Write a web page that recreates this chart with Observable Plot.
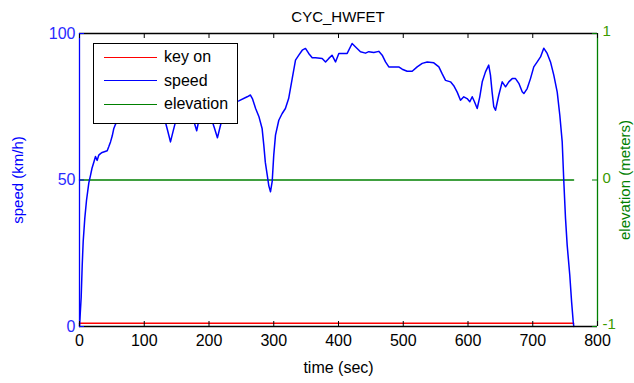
<!DOCTYPE html>
<html>
<head>
<meta charset="utf-8">
<script src="https://cdn.jsdelivr.net/npm/d3@7"></script>
<script src="https://cdn.jsdelivr.net/npm/@observablehq/plot@0.6"></script>
<style>
  html, body { margin: 0; padding: 0; background: #fff; }
  #wrap { position: relative; width: 634px; height: 383px; font-family: "Liberation Sans", Arial, sans-serif; }
  #title { position: absolute; left: 79px; width: 518px; top: 8px; text-align: center; font-size: 15px; color: #000; }
  #legend { position: absolute; left: 93px; top: 43px; width: 143px; height: 79px; border: 1px solid #000; background: #fff; }
  .row { position: absolute; left: 10px; height: 20px; display: flex; align-items: center; font-size: 16px; color: #000; }
  .sw { width: 53px; height: 0; border-top: 1.5px solid; margin-right: 7px; }
</style>
</head>
<body>
<div id="wrap"></div>
<script>
// ---- data ----
const speedTime = [0, 2.6, 4.2, 5.7, 8.2, 10.8, 14.4, 17, 19.3, 22, 24.7, 27.3, 29.8, 32.4, 35, 42.8, 45.3, 47.9, 50.5, 53, 55.6,
  60, 70, 80, 90, 100, 110, 120, 130, 136, 140.5, 145, 152, 162, 172, 178, 181, 184, 192, 202, 208, 213, 217, 224, 234, 246,
  259, 264, 267, 272, 277, 282, 284.6, 287, 290, 292.4, 295, 297.6, 300, 302.7, 307.8, 313, 318, 323, 328.5, 333.6, 338.7, 344, 349,
  354, 359.4, 364.5, 374.8, 380, 385, 390, 395.4, 400.5, 413.4, 421, 426, 433.9, 441.7, 446.8, 454.5, 462.2, 467.5, 472.6, 477.7,
  493, 498.4, 506, 513.8, 521.5, 529.3, 537, 547.2, 555, 560, 565.3, 573, 578, 583.3, 588.4, 593.5, 598.6, 602.8, 606.5, 610,
  614.2, 618.2, 622, 627, 632, 634.7, 637.2, 639.8, 642.5, 647.6, 652.8, 658, 663, 668.3, 673.4, 678.5, 683.7, 686.3, 691.4,
  696.5, 701.6, 706.9, 712, 717, 722.3, 727.4, 732.5, 737.8, 741.8, 745.5, 748, 750.6, 753.2, 757.2, 760, 762.5, 763.4];
const speedValue = [0, 10, 21, 29, 37, 43, 49, 51.6, 54, 56, 58, 56.7, 58.5, 59, 59.4, 60, 61.4, 63, 65, 67.6, 69,
  71, 73, 74, 75, 76, 75, 74, 72, 67, 63, 67, 73, 75, 73, 69, 66.8, 70, 74, 72, 68, 64.4, 68, 74, 76, 77,
  78.4, 79, 77.8, 74.4, 71.7, 67.6, 62, 56, 51.6, 48, 46, 49.5, 58.5, 65.3, 70.4, 72.7, 74.4, 77.8, 84.6, 90.9, 92.6, 94.3, 94.9,
  93.2, 91.7, 91.7, 91.5, 90.3, 91.5, 92.6, 90.3, 93.2, 93.2, 96.6, 95.5, 93.8, 93.3, 93.8, 93.5, 93.9, 92.6, 90.3, 88.6,
  88.6, 87.8, 87.1, 87.1, 88.6, 89.8, 90.3, 90, 88.6, 86.3, 84, 83.5, 82.2, 80, 77.2, 78.4, 77.8, 76.7, 78.4, 76.7,
  74.4, 78.4, 83.5, 86.9, 89.2, 85.8, 80.1, 75, 73.8, 79, 83.5, 81.8, 83.5, 84.6, 84.6, 83, 80.1, 79.5, 81.2,
  84.6, 88.6, 90.3, 92, 95, 93.2, 90.3, 85.8, 80, 72.1, 63, 49.4, 36.9, 27.7, 17.5, 8.4, 1.6, 0];
const keyOnTime = [0, 763];
const keyOnValue = [1.1, 1.1];
const elevationTime = [0, 763];
const elevationValue = [0, 0];
const xTicks = [0, 100, 200, 300, 400, 500, 600, 700, 800];
const speedTicks = [0, 50, 100];
const elevationTicks = [-1, 0, 1];
const seriesNames = ["key on", "speed", "elevation"];
const seriesColors = ["#ff0000", "#0000ff", "#008000"];

// elevation (right axis) mapped onto the speed scale
const elevToSpeed = d3.scaleLinear([-1, 1], [0, 100]);
const speedToElev = elevToSpeed.invert;

const speedData = speedTime.map((t, i) => ({t, v: speedValue[i]}));
const keyData = keyOnTime.map((t, i) => ({t, v: keyOnValue[i]}));
const elevData = elevationTime.map((t, i) => ({t, v: elevToSpeed(elevationValue[i])}));

const chart = Plot.plot({
  width: 634, height: 383,
  marginLeft: 79, marginRight: 37, marginTop: 33, marginBottom: 57,
  x: {domain: [0, 800]},
  y: {domain: [0, 100]},
  style: {fontFamily: "'Liberation Sans', Arial, sans-serif", fontSize: "16px", background: "white", overflow: "visible"},
  marks: [
    Plot.line(keyData, {x: "t", y: "v", stroke: seriesColors[0], strokeWidth: 1.6}),
    Plot.line(elevData, {x: "t", y: "v", stroke: seriesColors[2], strokeWidth: 1.5}),
    Plot.line(speedData, {x: "t", y: "v", stroke: seriesColors[1], strokeWidth: 1.5}),
    // frame
    Plot.ruleY([0, 100], {stroke: "#000", strokeWidth: 1.3}),
    Plot.ruleX([0], {stroke: "#0000ff", strokeWidth: 1.3}),
    Plot.ruleX([800], {stroke: "#008000", strokeWidth: 1.3}),
    // inward ticks
    Plot.tickX(xTicks, {insetTop: 288, stroke: "#000"}),
    Plot.tickX(xTicks, {insetBottom: 288, stroke: "#000"}),
    Plot.tickY(speedTicks, {insetRight: 513, stroke: "#0000ff"}),
    Plot.tickY(elevationTicks.map(elevToSpeed), {insetLeft: 513, stroke: "#008000"}),
    // axes labels
    Plot.axisX({ticks: xTicks, tickSize: 0, tickPadding: 8, label: null, fill: "#000", fontSize: 16}),
    Plot.axisY({ticks: speedTicks, tickSize: 0, tickPadding: 4, label: null, color: "#2a2aff", fontSize: 16}),
    Plot.axisY({anchor: "right", ticks: elevationTicks.map(elevToSpeed), tickFormat: d => String(speedToElev(d)), tickSize: 0, tickPadding: 5, dy: -2, label: null, color: "#3a9a00", fontSize: 15}),
    Plot.text(["time (sec)"], {frameAnchor: "bottom", dy: 46, text: d => d, fill: "#000", fontSize: 16}),
    Plot.text(["speed (km/h)"], {frameAnchor: "left", textAnchor: "middle", dx: -61, rotate: -90, text: d => d, fill: "#0000ff", fontSize: 15}),
    Plot.text(["elevation (meters)"], {frameAnchor: "right", textAnchor: "middle", dx: 28, rotate: -90, text: d => d, fill: "#008000", fontSize: 15})
  ]
});

const wrap = document.getElementById("wrap");
wrap.appendChild(chart);
const title = document.createElement("div");
title.id = "title";
title.textContent = "CYC_HWFET";
wrap.appendChild(title);
const legend = document.createElement("div");
legend.id = "legend";
seriesNames.forEach((name, i) => {
  const row = document.createElement("div");
  row.className = "row";
  row.style.top = (3 + i * 23.5) + "px";
  const sw = document.createElement("div");
  sw.className = "sw";
  sw.style.borderTopColor = seriesColors[i];
  row.appendChild(sw);
  const tx = document.createElement("span");
  tx.textContent = name;
  row.appendChild(tx);
  legend.appendChild(row);
});
wrap.appendChild(legend);
</script>
</body>
</html>
